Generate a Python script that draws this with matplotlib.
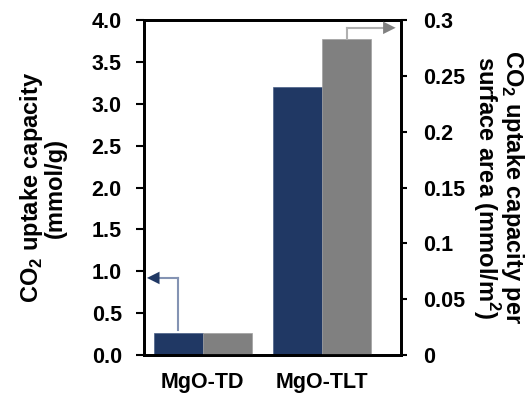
import matplotlib
matplotlib.use("Agg")
import matplotlib.pyplot as plt
import numpy as np

categories = ["MgO-TD", "MgO-TLT"]
uptake_mass = [0.26, 3.20]        # mmol/g (left axis)
uptake_area = [0.020, 0.283]      # mmol/m2 (right axis)
left_ticks = [0.0, 0.5, 1.0, 1.5, 2.0, 2.5, 3.0, 3.5, 4.0]
right_ticks = [0, 0.05, 0.1, 0.15, 0.2, 0.25, 0.3]
right_tick_labels = ["0", "0.05", "0.1", "0.15", "0.2", "0.25", "0.3"]

plt.rcParams['font.family'] = ['Liberation Sans', 'DejaVu Sans']
plt.rcParams['font.weight'] = 'bold'
plt.rcParams['mathtext.fontset'] = 'custom'
plt.rcParams['mathtext.rm'] = 'Liberation Sans:bold'
plt.rcParams['mathtext.bf'] = 'Liberation Sans:bold'

navy = "#203864"
gray = "#808080"

fig = plt.figure(figsize=(5.32, 3.98), dpi=100)
ax = fig.add_axes([144/532, 1-355/398, 257/532, 335/398])
ax2 = ax.twinx()

x = np.arange(len(categories))
w = 0.41
ax.bar(x - w/2, uptake_mass, w, color=navy, edgecolor="#4a5f86", linewidth=0.5, zorder=2)
ax2.bar(x + w/2, uptake_area, w, color=gray, edgecolor="#a0a0a0", linewidth=0.5, zorder=2)

ax.set_xlim(-0.49, 1.66)
ax.set_ylim(0, 4.0)
ax2.set_ylim(0, 0.3)

ax.set_yticks(left_ticks)
ax.set_yticklabels([f"{v:.1f}" for v in left_ticks], fontsize=15.5, fontweight='bold')
ax2.set_yticks(right_ticks)
ax2.set_yticklabels(right_tick_labels, fontsize=15.5, fontweight='bold')
ax.set_xticks(x)
ax.set_xticklabels(categories, fontsize=15.5, fontweight='bold')

ax.tick_params(axis='y', direction='out', length=6, width=1.5, pad=10)
ax2.tick_params(axis='y', direction='out', length=4, width=1.5, pad=12)
ax.tick_params(axis='x', length=0, pad=12)

for a in (ax, ax2):
    for s in a.spines.values():
        s.set_linewidth(2)

ax.set_ylabel("CO$_2$ uptake capacity\n(mmol/g)", fontsize=17, fontweight='bold', labelpad=18, linespacing=0.95)
ax2.set_ylabel("CO$_2$ uptake capacity per\nsurface area (mmol/m$^2$)", fontsize=17, fontweight='bold',
               rotation=270, labelpad=44, linespacing=0.9)

# arrows
xv0 = x[0] - w/2
ax.plot([xv0, xv0], [uptake_mass[0] + 0.04, 0.92], color="#8493b3", lw=1.5, zorder=4)
ax.plot([xv0, -0.38], [0.92, 0.92], color="#8493b3", lw=1.5, zorder=4)
ax.annotate("", xy=(-0.465, 0.92), xytext=(-0.36, 0.92),
            arrowprops=dict(arrowstyle="-|>,head_length=0.9,head_width=0.45", color=navy, lw=0.01,
                            shrinkA=0, shrinkB=0), zorder=5)

xv1 = x[1] + w/2
ax2.plot([xv1, xv1], [uptake_area[1], 0.293], color="#b0b0b0", lw=1.5, zorder=4)
ax2.plot([xv1, 1.53], [0.293, 0.293], color="#b0b0b0", lw=1.5, zorder=4)
ax2.annotate("", xy=(1.615, 0.293), xytext=(1.50, 0.293),
             arrowprops=dict(arrowstyle="-|>,head_length=0.9,head_width=0.45", color=gray, lw=0.01,
                             shrinkA=0, shrinkB=0), zorder=5)

fig.savefig("out.png", dpi=100)
